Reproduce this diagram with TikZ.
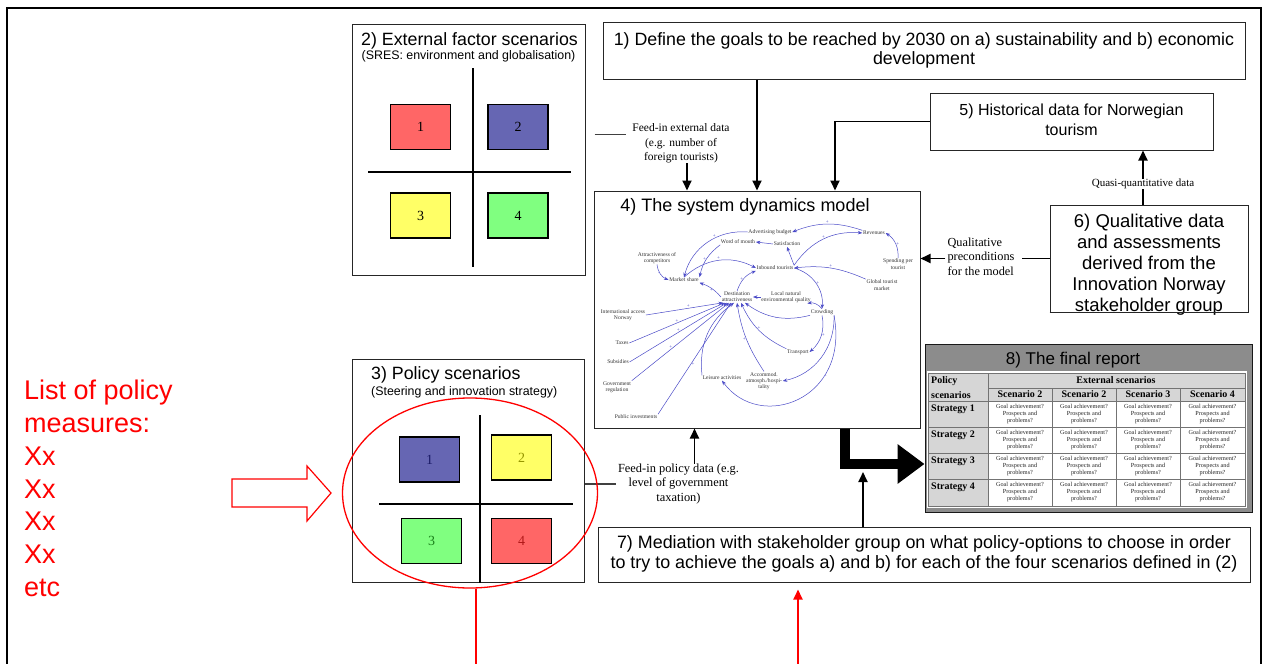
\documentclass[tikz,border=0pt]{standalone}
\usepackage{fontspec}
\setmainfont{Liberation Serif}
\setsansfont{Liberation Sans}
\usetikzlibrary{arrows.meta,calc,shapes.geometric}
\definecolor{qred}{HTML}{FF6666}
\definecolor{qblue}{HTML}{6666B3}
\definecolor{qyellow}{HTML}{FFFF66}
\definecolor{qgreen}{HTML}{80FF80}
\definecolor{cld}{HTML}{4B4BC8}
\definecolor{repgray}{HTML}{8C8C8C}
\definecolor{cellgray}{HTML}{D6D6D6}

\tikzset{
  boxframe/.style={draw=black!85, line width=1pt, fill=white, inner sep=0pt},
  big/.style={font=\sffamily\fontsize{17.8}{19.5}\selectfont, align=center, inner sep=0pt},
  subt/.style={font=\sffamily\fontsize{12.4}{14}\selectfont, inner sep=0pt},
  note/.style={font=\fontsize{11.5}{14.5}\selectfont, align=center, inner sep=0pt},
  flow/.style={line width=1.8pt, -{Triangle[length=10pt,width=9pt]}},
  flowline/.style={line width=1.8pt},
  thinline/.style={line width=1.2pt, draw=black!75},
  fat/.style={line width=10pt, -{Triangle[length=27pt,width=38pt]}},
  cell/.style={draw=black, line width=1.6pt, minimum width=60pt, minimum height=45pt,
    font=\fontsize{14}{14}\selectfont, inner sep=0pt},
  cross/.style={line width=2pt},
  cl/.style={font=\fontsize{5.6}{6.2}\selectfont, align=center, inner sep=0.6pt, text=black!80},
  cla/.style={draw=cld, line width=0.5pt, -{Stealth[length=4.5pt,width=3.5pt]}},
  sg/.style={font=\fontsize{5}{5}\selectfont, text=cld, inner sep=0.5pt},
  hd/.style={font=\bfseries\fontsize{10}{11}\selectfont, inner sep=0pt},
  qa/.style={font=\fontsize{6.2}{7}\selectfont, align=center, inner sep=0pt, text=black!85},
}

\begin{document}
\begin{tikzpicture}[x=1pt,y=-1pt]
\useasboundingbox (0,0) rectangle (1264,664);
\fill[white] (0,0) rectangle (1264,664);

% outer frame
\draw[line width=2.5pt] (7,670) -- (7,8) -- (1261,8) -- (1261,670);

% ---------- boxes ----------
\node[boxframe, minimum width=642pt, minimum height=57pt] (goals) at (924,50.5) {};
\node[big] (tgoals) at (924,50.5) {1) Define the goals to be reached by 2030 on a) sustainability and b) economic\\development};

\node[boxframe, minimum width=283pt, minimum height=57pt] (hist) at (1071.5,121.5) {};
\node[big, font=\sffamily\fontsize{16}{20}\selectfont] (thist) at (1071.5,120) {5) Historical data for Norwegian\\tourism};

\node[boxframe, minimum width=198pt, minimum height=107pt] (qual) at (1149,258.5) {};
\node[big, font=\sffamily\fontsize{18.5}{21}\selectfont] (tqual) at (1149,265) {6) Qualitative data\\and assessments\\derived from the\\Innovation Norway\\stakeholder group};
\draw[draw=black!85, line width=1pt] (qual.south west) -- (qual.south east);

\node[boxframe, minimum width=233pt, minimum height=251pt] (ext) at (468.5,149.5) {};
\node[big] (text) at (469.5,41) {2) External factor scenarios};
\node[subt] (sext) at (468.5,56) {(SRES: environment and globalisation)};
\draw[cross] (473,68) -- (473,267);
\draw[cross] (368,172) -- (571,172);
\node[cell, fill=qred] (e1) at (420.5,127) {1};
\node[cell, fill=qblue] (e2) at (518,127) {2};
\node[cell, fill=qyellow] (e3) at (420.5,215.5) {3};
\node[cell, fill=qgreen] (e4) at (518,215.5) {4};

\node[boxframe, minimum width=232pt, minimum height=223pt] (pol) at (468,470.5) {};
\node[big, anchor=west] (tpol) at (371,375) {3) Policy scenarios};
\node[subt, anchor=west] (spol) at (371,392) {(Steering and innovation strategy)};
\draw[cross] (480,415) -- (480,583);
\draw[cross] (379,504) -- (573,504);
\node[cell, fill=qblue, text={rgb,255:red,26;green,26;blue,102}] (p1) at (429.5,459.5) {1};
\node[cell, fill=qyellow, text={rgb,255:red,150;green,150;blue,0}] (p2) at (521.5,457.5) {2};
\node[cell, fill=qgreen, text={rgb,255:red,26;green,128;blue,26}] (p3) at (431.5,541) {3};
\node[cell, fill=qred, text={rgb,255:red,178;green,26;blue,26}] (p4) at (521.5,541) {4};

\node[boxframe, minimum width=652pt, minimum height=55pt] (med) at (924,554.5) {};
\node[big, font=\sffamily\fontsize{17.9}{20}\selectfont] (tmed) at (924,554) {7) Mediation with stakeholder group on what policy-options to choose in order\\to try to achieve the goals a) and b) for each of the four scenarios defined in (2)};

% ---------- system dynamics model ----------
\node[boxframe, minimum width=326pt, minimum height=237pt] (sdm) at (757,309.5) {};
\node[big, font=\sffamily\fontsize{18}{20}\selectfont] (tsdm) at (745,207) {4) The system dynamics model};

\node[cl] (adv) at (770,232) {Advertising budget};
\node[cl] (wom) at (738,242) {Word of mouth};
\node[cl] (sat) at (787,244) {Satisfaction};
\node[cl] (rev) at (874,233) {Revenues};
\node[cl] (aoc) at (657,258) {Attractiveness of\\competitors};
\node[cl] (inb) at (775,268) {Inbound tourists};
\node[cl] (spt) at (898,264) {Spending per\\tourist};
\node[cl] (ms) at (684,280) {Market share};
\node[cl] (gtm) at (882,285) {Global tourist\\market};
\node[cl] (da) at (737,297) {Destination\\attractiveness};
\node[cl] (lnq) at (786,297) {Local natural\\environmental quality};
\node[cl] (ian) at (623,315) {International access\\Norway};
\node[cl] (cr) at (822,312) {Crowding};
\node[cl] (tax) at (622,343) {Taxes};
\node[cl] (subs) at (618,362) {Subsidies};
\node[cl] (tr) at (798,352) {Transport};
\node[cl] (gr) at (617,387) {Government\\regulation};
\node[cl] (la) at (722,378) {Leisure activities};
\node[cl] (acc) at (764,381) {Accommod.\\atmosph./hospi-\\tality};
\node[cl] (pinv) at (636,417) {Public investments};

\draw[cla] (ian.east) -- node[sg, pos=.55, above] {+} ([xshift=2pt]da.south west);
\draw[cla] (tax.east) -- node[sg, pos=.5, above] {+} ([xshift=4pt]da.south west);
\draw[cla] (subs.east) -- node[sg, pos=.5, above] {+} ([xshift=6pt]da.south west);
\draw[cla] (gr.north east) -- node[sg, pos=.4, above] {+} ([xshift=8pt]da.south west);
\draw[cla] (pinv.north east) -- node[sg, pos=.45, right] {+} ([xshift=10pt]da.south west);
\draw[cla] (la.north west) to[bend left=30] ([xshift=-3pt]da.south);
\draw[cla] (acc.north) to[bend left=12] node[sg, pos=.5, left] {+} (da.south);
\draw[cla] (tr.north west) to[bend left=20] node[sg, pos=.5, above] {+} ([xshift=4pt]da.south);
\draw[cla] (cr.south west) to[bend left=25] node[sg, pos=.5, below] {-} ([xshift=8pt]da.south);
\draw[cla] (lnq.west) -- (da.east);
\draw[cla] (cr.north) to[bend right=30] ([xshift=-4pt]lnq.south east);
\draw[cla] (da.west) to[bend right=15] node[sg, pos=.5, below] {+} (ms.south east);
\draw[cla] (da.north) to[bend left=25] node[sg, pos=.5, left] {+} (inb.south west);
\draw[cla] (ms.north) to[bend left=35] node[sg, pos=.5, above] {+} (inb.west);
\draw[cla] (aoc.south) to[bend right=30] node[sg, pos=.5, left] {-} (ms.west);
\draw[cla] (wom.south west) to[bend right=20] node[sg, pos=.5, left] {+} (ms.north east);
\draw[cla] (adv.west) to[bend right=40] node[sg, pos=.4, above] {+} (ms.north);
\draw[cla] (inb.north east) -- (sat.south);
\draw[cla] (sat.west) -- (wom.east);
\draw[cla] (inb.north east) to[bend left=30] node[sg, pos=.5, above] {+} (rev.west);
\draw[cla] (rev.north west) to[bend right=20] node[sg, pos=.5, above] {+} (adv.east);
\draw[cla] (spt.north) to[bend right=30] node[sg, pos=.5, right] {+} (rev.east);
\draw[cla] (gtm.north west) to[bend right=15] node[sg, pos=.5, above] {+} (inb.east);
\draw[cla] (inb.east) to[bend left=40] node[sg, pos=.5, right] {+} (cr.north);
\draw[cla] (cr.south) to[bend left=30] node[sg, pos=.5, right] {+} (tr.east);
\draw[cla] (cr.south east) to[bend left=40] node[sg, pos=.6, right] {-} (acc.east);
\draw[cla] (cr.south east) .. controls (850,400) and (760,432) .. node[sg, pos=.3, right] {-} (la.south);

% ---------- connectors ----------
\node[note] (fe) at (681,143.5) {Feed-in external data\\(e.g. number of\\foreign tourists)};
\draw[thinline] ($(ext.east |- fe.north)+(9,11)$) -- ($(fe.north west)+(-6,11)$);
\path ($(fe.south)+(6,0)$) coordinate (feo);
\draw[flow] (feo) -- (feo |- sdm.north);

\draw[flow] (goals.south -| sdm.north) -- (sdm.north);
\draw[flow] (hist.west) -| ($(sdm.north)+(78,0)$);

\node[note, font=\fontsize{11}{13}\selectfont] (qq) at (1143,184) {Quasi-quantitative data};
\draw[flowline] (qual.north -| qq) -- (qq.south);
\draw[flow] (qq.north) -- (qq |- hist.south);

\node[note, align=left, font=\fontsize{12.3}{14.5}\selectfont] (qp) at (981,256.5) {Qualitative\\preconditions\\for the model};
\draw[flowline] (qual.west) -- ++(-28,0);
\draw[flow] ($(qp.west |- qual.west)+(-2,0)$) -- (sdm.east |- qual.west);

\node[note, font=\fontsize{12.4}{14.5}\selectfont] (fp) at (678.5,484) {Feed-in policy data (e.g.\\level of government\\taxation)};
\draw[thinline] (pol.east |- fp) -- ($(fp.west)+(-2,0)$);
\path ($(fp.north)+(16,0)$) coordinate (fpo);
\draw[flow] (fpo) -- (fpo |- sdm.south);

% ---------- final report ----------
\node[draw=black!90, line width=1pt, fill=repgray, minimum width=327pt, minimum height=168pt, inner sep=0pt] (rep) at (1088.5,428) {};
\node[big, font=\sffamily\fontsize{17}{19}\selectfont] (trep) at (1073,360) {8) The final report};
\fill[white] (926.5,371) rectangle (1247,508);
\fill[cellgray] (928,373) rectangle (988,506);
\fill[cellgray] (988,373) rectangle (1245,401);
\draw[black!55, line width=0.6pt] (928,373) rectangle (1245,506);
\draw[black!55, line width=0.6pt] (988,388) -- (1245,388);
\foreach \yy in {401,427,453,479} \draw[black!55, line width=0.6pt] (928,\yy) -- (1245,\yy);
\draw[black!55, line width=0.6pt] (988,373) -- (988,506);
\foreach \xx in {1052,1116,1180} \draw[black!55, line width=0.6pt] (\xx,388) -- (\xx,506);
\node[hd] (hext) at (1116,380.5) {External scenarios};
\node[hd, anchor=west] (hpol1) at (931,381) {Policy};
\node[hd, anchor=west] (hpol2) at (931,395) {scenarios};
\node[hd] (s1) at (1020,394.5) {Scenario 2};
\node[hd] (s2) at (1084,394.5) {Scenario 2};
\node[hd] (s3) at (1148,394.5) {Scenario 3};
\node[hd] (s4) at (1212.5,394.5) {Scenario 4};
\foreach \k/\yy in {1/401,2/427,3/453,4/479} {
  \node[hd, anchor=west] at (931,\yy+8) {Strategy \k};
  \foreach \xx in {1020,1084,1148,1212.5}
    \node[qa] at (\xx,\yy+13) {Goal achievement?\\Prospects and\\problems?};
}

% thick arrow into the report
\path ($(sdm.south)+(88,0)$) coordinate (ts);
\draw[fat] (ts) |- ($(rep.west)+(0,36)$);
\coordinate (mj) at (863,472);
\draw[flow] (med.north -| mj) -- (mj);

% ---------- policy measures (red) ----------
\node[font=\sffamily\fontsize{27}{32.8}\selectfont, text=red, align=left, anchor=north west, inner sep=0pt] (lst) at (24,380) {List of policy\\measures:\\Xx\\Xx\\Xx\\Xx\\etc};
\draw[red, line width=1.2pt, line join=miter] (232,479) -- (307,479) -- (307,466) -- (331,493) -- (307,521) -- (307,507) -- (232,507) -- cycle;
\node[draw=red, line width=1.3pt, ellipse, minimum width=255pt, minimum height=190pt, inner sep=0pt] (ell) at (470,493) {};
\coordinate (rb1) at (476,670);
\draw[red, line width=1.5pt] (ell.south -| rb1) -- (rb1);
\coordinate (rb2) at (798,670);
\draw[red, flow] (rb2) -- ($(rb2 |- med.south)+(0,7)$);
\end{tikzpicture}
\end{document}
